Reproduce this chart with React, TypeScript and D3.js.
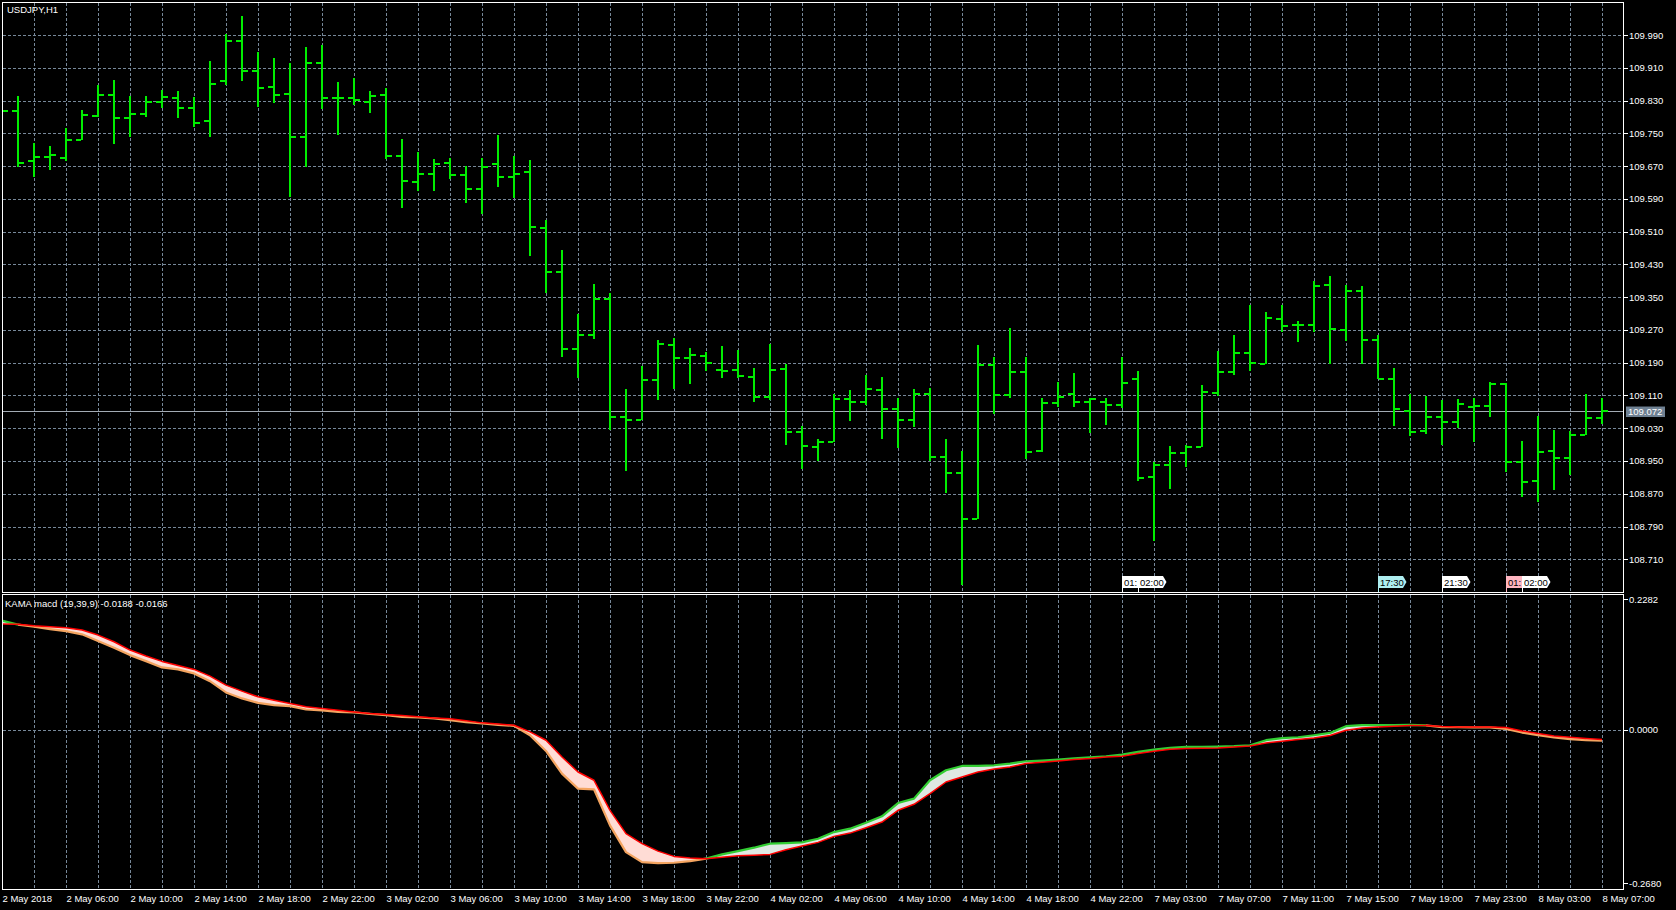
import React from 'react';
import * as d3 from 'd3';

const symbolTitle = 'USDJPY,H1';
const indicatorTitle = 'KAMA macd (19,39,9) -0.0188 -0.0166';

const openP = [109.812,109.805,109.682,109.693,109.689,109.734,109.792,109.844,109.788,109.797,
109.827,109.837,109.813,109.781,109.878,109.976,109.902,109.864,109.846,109.742,
109.922,109.837,109.837,109.827,109.844,109.695,109.631,109.651,109.678,109.649,
109.614,109.674,109.644,109.656,109.520,109.411,109.224,109.258,109.346,109.058,
109.050,109.148,109.233,109.202,109.206,109.172,109.172,109.156,109.107,109.175,
109.021,108.985,108.997,109.102,109.094,109.124,109.076,109.050,109.114,108.959,
108.920,108.808,109.184,109.111,109.168,108.974,109.092,109.114,109.094,109.094,
109.087,109.149,108.912,108.939,108.970,108.985,109.117,109.168,109.213,109.188,
109.297,109.281,109.281,109.380,109.271,109.366,109.245,109.149,109.073,109.023,
109.058,109.045,109.081,109.085,109.138,108.948,108.901,108.975,108.958,109.013,109.054];
const highP = [109.818,109.842,109.726,109.719,109.762,109.807,109.867,109.880,109.841,109.841,
109.856,109.853,109.838,109.927,109.993,110.036,109.949,109.933,109.921,109.960,
109.966,109.875,109.884,109.853,109.861,109.735,109.704,109.687,109.690,109.670,
109.689,109.745,109.694,109.685,109.538,109.465,109.309,109.381,109.359,109.126,
109.182,109.245,109.250,109.226,109.217,109.231,109.221,109.176,109.236,109.187,
109.035,109.003,109.114,109.123,109.160,109.154,109.105,109.126,109.129,109.004,
108.974,109.233,109.205,109.275,109.205,109.105,109.144,109.164,109.105,109.105,
109.205,109.170,108.948,108.987,108.989,109.136,109.219,109.258,109.331,109.313,
109.331,109.292,109.389,109.402,109.380,109.377,109.258,109.176,109.114,109.109,
109.099,109.101,109.103,109.142,109.140,109.000,109.060,109.026,109.024,109.113,109.103];
const lowP = [109.800,109.667,109.643,109.660,109.683,109.734,109.789,109.724,109.742,109.791,
109.813,109.788,109.766,109.742,109.869,109.878,109.815,109.825,109.594,109.668,
109.810,109.747,109.819,109.800,109.688,109.568,109.610,109.610,109.638,109.581,
109.554,109.618,109.593,109.451,109.359,109.205,109.153,109.249,109.026,108.926,
109.050,109.099,109.126,109.138,109.170,109.153,109.153,109.095,109.099,108.989,
108.930,108.950,108.996,109.048,109.087,109.004,108.982,109.034,108.950,108.873,
108.647,108.808,109.065,109.105,108.954,108.973,109.083,109.083,109.019,109.038,
109.079,108.901,108.755,108.882,108.936,108.985,109.109,109.160,109.170,109.187,
109.264,109.241,109.266,109.188,109.244,109.188,109.149,109.036,109.012,109.015,
108.989,109.030,108.997,109.058,108.924,108.863,108.851,108.878,108.916,109.013,109.040];
const closeP = [109.805,109.678,109.693,109.697,109.734,109.795,109.844,109.788,109.797,109.827,
109.839,109.813,109.776,109.870,109.976,109.902,109.861,109.844,109.742,109.922,
109.837,109.837,109.831,109.841,109.695,109.634,109.651,109.676,109.649,109.614,
109.668,109.644,109.651,109.522,109.411,109.224,109.258,109.346,109.058,109.050,
109.148,109.236,109.202,109.209,109.190,109.170,109.158,109.107,109.172,109.021,
108.987,108.997,109.102,109.094,109.126,109.078,109.050,109.114,108.960,108.920,
108.808,109.184,109.111,109.168,108.973,109.092,109.107,109.094,109.102,109.087,
109.141,108.909,108.939,108.970,108.985,109.119,109.168,109.214,109.190,109.300,
109.280,109.281,109.378,109.272,109.366,109.245,109.149,109.076,109.021,109.058,
109.045,109.089,109.085,109.138,108.947,108.899,108.973,108.958,109.013,109.054,109.072];

const macdVals = [0.1908,0.1840,0.1803,0.1762,0.1727,0.1670,0.1552,0.1435,0.1307,0.1202,
0.1092,0.1057,0.0987,0.0852,0.0655,0.0550,0.0473,0.0432,0.0415,0.0357,
0.0340,0.0315,0.0305,0.0280,0.0257,0.0228,0.0217,0.0200,0.0170,0.0135,
0.0112,0.0088,0.0070,-0.0093,-0.0368,-0.0763,-0.1026,-0.1038,-0.1668,-0.2135,
-0.2310,-0.2328,-0.2321,-0.2293,-0.2248,-0.2175,-0.2118,-0.2058,-0.1988,-0.1978,
-0.1965,-0.1901,-0.1785,-0.1726,-0.1621,-0.1510,-0.1278,-0.1201,-0.0880,-0.0705,
-0.0630,-0.0630,-0.0618,-0.0588,-0.0548,-0.0536,-0.0518,-0.0495,-0.0478,-0.0460,
-0.0431,-0.0385,-0.0343,-0.0315,-0.0298,-0.0298,-0.0291,-0.0285,-0.0268,-0.0180,
-0.0145,-0.0128,-0.0093,-0.0053,0.0065,0.0082,0.0082,0.0082,0.0088,0.0080,
0.0050,0.0047,0.0046,0.0045,0.0018,-0.0046,-0.0093,-0.0133,-0.0160,-0.0178,-0.0188];
const signalVals = [0.1850,0.1845,0.1820,0.1803,0.1785,0.1745,0.1657,0.1540,0.1395,0.1290,
0.1197,0.1127,0.1057,0.0940,0.0782,0.0677,0.0578,0.0520,0.0462,0.0403,
0.0375,0.0345,0.0315,0.0287,0.0270,0.0252,0.0228,0.0210,0.0193,0.0158,
0.0123,0.0105,0.0082,-0.0035,-0.0180,-0.0473,-0.0735,-0.0880,-0.1405,-0.1813,
-0.1988,-0.2118,-0.2210,-0.2240,-0.2251,-0.2223,-0.2198,-0.2188,-0.2175,-0.2093,
-0.2030,-0.1965,-0.1860,-0.1803,-0.1708,-0.1610,-0.1405,-0.1300,-0.1113,-0.0910,
-0.0823,-0.0735,-0.0683,-0.0648,-0.0588,-0.0565,-0.0543,-0.0518,-0.0501,-0.0473,
-0.0460,-0.0413,-0.0373,-0.0338,-0.0326,-0.0320,-0.0315,-0.0298,-0.0280,-0.0228,
-0.0198,-0.0168,-0.0140,-0.0098,-0.0005,0.0035,0.0053,0.0065,0.0077,0.0077,
0.0060,0.0053,0.0052,0.0050,0.0042,-0.0018,-0.0063,-0.0105,-0.0128,-0.0150,-0.0166];

const timeLabels = ['2 May 2018','2 May 06:00','2 May 10:00','2 May 14:00','2 May 18:00','2 May 22:00',
'3 May 02:00','3 May 06:00','3 May 10:00','3 May 14:00','3 May 18:00','3 May 22:00',
'4 May 02:00','4 May 06:00','4 May 10:00','4 May 14:00','4 May 18:00','4 May 22:00',
'7 May 03:00','7 May 07:00','7 May 11:00','7 May 15:00','7 May 19:00','7 May 23:00',
'8 May 03:00','8 May 07:00'];
const timeLabelStep = 4;

const priceTicks = [109.990,109.910,109.830,109.750,109.670,109.590,109.510,109.430,109.350,
109.270,109.190,109.110,109.030,108.950,108.870,108.790,108.710];
const indicatorTicks = [0.2282, 0, -0.2680];
const indicatorTickLabels = ['0.2282', '0.0000', '-0.2680'];
const lastPrice = 109.072;

const markerBars = [70, 71, 86, 90, 94, 95];
const markerTexts = ['01:00', '02:00', '17:30', '21:30', '01:00', '02:00'];
const markerColors = ['#ffffff', '#ffffff', '#aeeef0', '#ffffff', '#ffb6c1', '#ffffff'];

const FONT = "'Liberation Sans', Arial, sans-serif";
const GRID = '#778899';
const BAR = '#00ee00';

export default function App() {
  const W = 1676, H = 910;
  const left = 2, right = 1623;
  const mainTop = 2, mainBottom = 592;
  const indTop = 594, indBottom = 889;
  const n = closeP.length;

  const x = d3.scaleLinear().domain([0, 100]).range([2, 1602]);
  const y = d3.scaleLinear().domain([108.710, 109.990]).range([559.3, 35]);
  const yi = d3.scaleLinear().domain([-0.2680, 0.2282]).range([883.3, 599.3]);

  const idx = d3.range(n);
  const gridIdx = d3.range(2, n, 2);

  const pinkArea = d3.area<number>()
    .x((i) => x(i))
    .y0((i) => yi(signalVals[i]))
    .y1((i) => yi(Math.min(macdVals[i], signalVals[i])));
  const greenArea = d3.area<number>()
    .x((i) => x(i))
    .y0((i) => yi(signalVals[i]))
    .y1((i) => yi(Math.max(macdVals[i], signalVals[i])));
  const sigLine = d3.line<number>().x((i) => x(i)).y((i) => yi(signalVals[i]));
  const macdLine = d3.line<number>().x((i) => x(i)).y((i) => yi(macdVals[i]));

  const runs: { up: boolean; pts: number[] }[] = [];
  for (let i = 0; i < n - 1; i++) {
    const d = macdVals[i] - signalVals[i] + macdVals[i + 1] - signalVals[i + 1];
    const up = d > 0;
    const last = runs[runs.length - 1];
    if (last && last.up === up) last.pts.push(i + 1);
    else runs.push({ up, pts: [i, i + 1] });
  }

  const px = (v: number) => Math.round(v) + 0.5;

  return (
    <svg width={W} height={H} style={{ position: 'absolute', left: 0, top: 0, display: 'block' }}>
      <defs>
        <clipPath id="mainClip">
          <rect x={left + 1} y={mainTop + 1} width={right - left - 1} height={mainBottom - mainTop - 1} />
        </clipPath>
        <clipPath id="indClip">
          <rect x={left + 1} y={indTop + 1} width={right - left - 1} height={indBottom - indTop - 1} />
        </clipPath>
      </defs>
      <rect x={0} y={0} width={W} height={H} fill="#000" />

      <g stroke={GRID} strokeWidth={1} strokeDasharray="3,2" shapeRendering="crispEdges">
        {gridIdx.map((i) => (
          <line key={'vg' + i} x1={px(x(i))} x2={px(x(i))} y1={mainTop + 1} y2={mainBottom} />
        ))}
        {priceTicks.map((p) => (
          <line key={'hg' + p} x1={left + 1} x2={right} y1={px(y(p))} y2={px(y(p))} />
        ))}
        {gridIdx.map((i) => (
          <line key={'ivg' + i} x1={px(x(i))} x2={px(x(i))} y1={indTop + 1} y2={indBottom} />
        ))}
        <line x1={left + 1} x2={right} y1={px(yi(0))} y2={px(yi(0))} />
      </g>

      <line x1={left + 1} x2={right} y1={px(y(lastPrice))} y2={px(y(lastPrice))} stroke="#a3abb4" strokeWidth={1} shapeRendering="crispEdges" />

      <g clipPath="url(#mainClip)" fill={BAR} shapeRendering="crispEdges">
        {idx.map((i) => {
          const cx = x(i);
          return (
            <g key={'b' + i}>
              <rect x={cx - 1} y={y(highP[i])} width={2} height={Math.max(1, y(lowP[i]) - y(highP[i]))} />
              <rect x={cx - 6} y={y(openP[i]) - 1} width={5} height={2} />
              <rect x={cx + 1} y={y(closeP[i]) - 1} width={5} height={2} />
            </g>
          );
        })}
      </g>

      <g fontFamily={FONT} fontSize={9.5}>
        {markerBars.map((b, j) => {
          const x0 = Math.round(x(b));
          const col = markerColors[j];
          const next = j + 1 < markerBars.length ? Math.round(x(markerBars[j + 1])) : Infinity;
          const covered = next - x0 < 28;
          const label = covered ? markerTexts[j].slice(0, 3) : markerTexts[j];
          return (
            <g key={'m' + j}>
              <path d={`M${x0},576 H${x0 + 25} L${x0 + 28.5},582 L${x0 + 25},588 H${x0} Z`} fill={col} />
              <rect x={x0} y={587} width={1} height={5} fill={col} />
              <text x={x0 + 2} y={585.5} fill="#000">{label}</text>
            </g>
          );
        })}
      </g>

      <g clipPath="url(#indClip)">
        <path d={pinkArea(idx) || ''} fill="#ffdcd5" stroke="none" />
        <path d={greenArea(idx) || ''} fill="#dfe8e3" stroke="none" />
        {runs.map((r, j) => (
          <path key={'r' + j} d={macdLine(r.pts) || ''} fill="none" stroke={r.up ? '#32cd32' : '#f4a460'} strokeWidth={2.2} strokeLinejoin="round" />
        ))}
        <path d={sigLine(idx) || ''} fill="none" stroke="#ff0000" strokeWidth={1.5} strokeLinejoin="round" />
      </g>

      <g stroke="#ffffff" strokeWidth={1} shapeRendering="crispEdges" fill="none">
        <rect x={left + 0.5} y={mainTop + 0.5} width={right - left} height={mainBottom - mainTop} />
        <rect x={left + 0.5} y={indTop + 0.5} width={right - left} height={indBottom - indTop} />
      </g>

      <g fontFamily={FONT} fontSize={9.5} fill="#ffffff">
        {priceTicks.map((p) => (
          <g key={'pl' + p}>
            <line x1={right} x2={right + 5} y1={px(y(p))} y2={px(y(p))} stroke="#ffffff" shapeRendering="crispEdges" />
            <text x={1629} y={y(p) + 3.5}>{p.toFixed(3)}</text>
          </g>
        ))}
        <rect x={1626} y={y(lastPrice) - 4.5} width={39} height={10.5} fill="#6f8193" />
        <text x={1628} y={y(lastPrice) + 3.5} fill="#ffffff">{lastPrice.toFixed(3)}</text>
      </g>

      <g fontFamily={FONT} fontSize={9.5} fill="#ffffff">
        {indicatorTicks.map((v, j) => (
          <g key={'il' + j}>
            <line x1={right} x2={right + 5} y1={px(yi(v))} y2={px(yi(v))} stroke="#ffffff" shapeRendering="crispEdges" />
            <text x={1629} y={yi(v) + 3.5}>{indicatorTickLabels[j]}</text>
          </g>
        ))}
      </g>

      <g fontFamily={FONT} fontSize={9.5} fill="#ffffff">
        {timeLabels.map((t, j) => (
          <text key={'t' + j} x={x(j * timeLabelStep) + 0.5} y={902}>{t}</text>
        ))}
      </g>

      <text x={7} y={13} fontFamily={FONT} fontSize={9.5} fill="#ffffff">{symbolTitle}</text>
      <text x={5} y={607} fontFamily={FONT} fontSize={9.5} fill="#ffffff">{indicatorTitle}</text>
    </svg>
  );
}
